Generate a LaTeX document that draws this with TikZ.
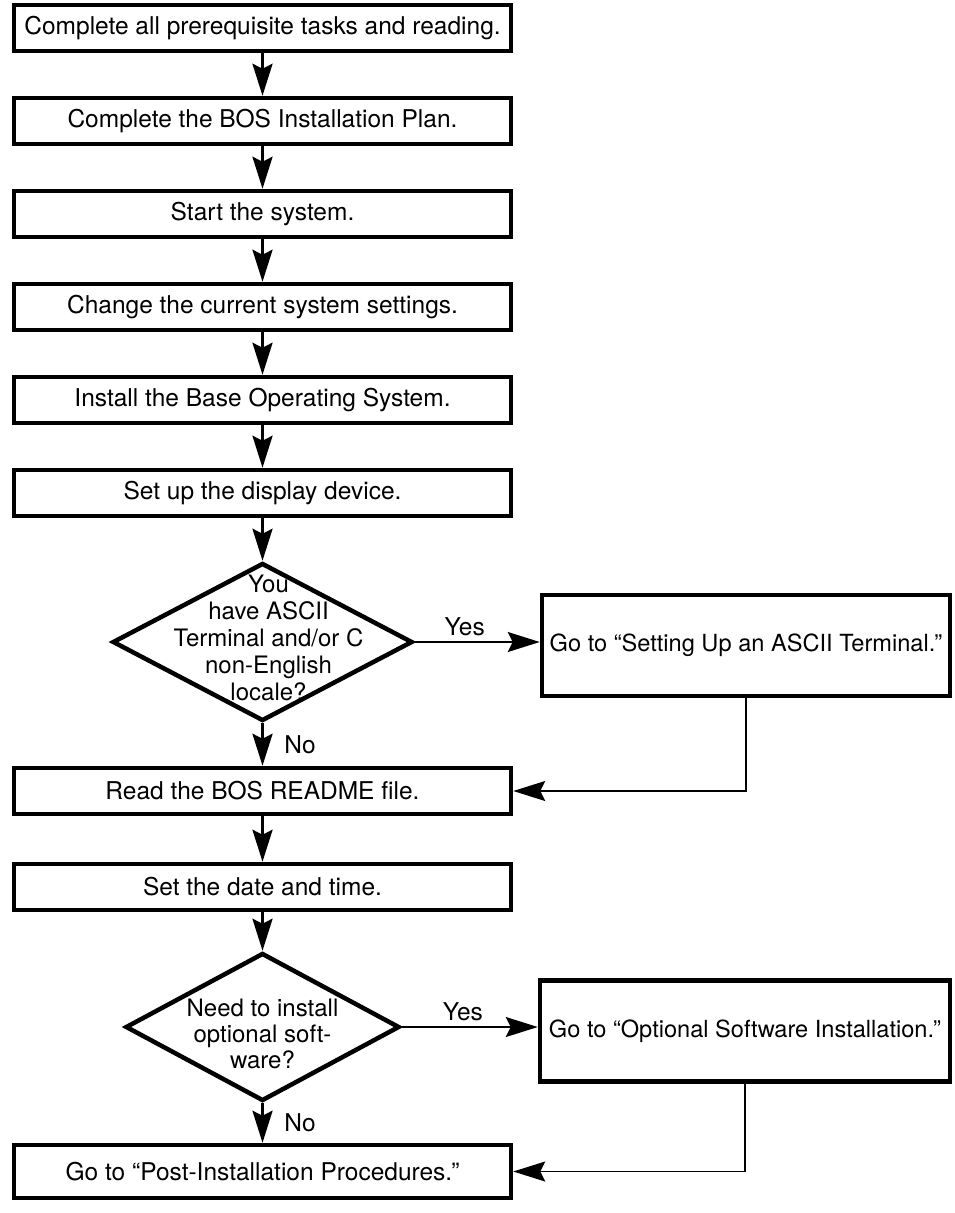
\documentclass[tikz,border=0pt]{standalone}
\usepackage{fontspec}
\setmainfont{TeX Gyre Heros}
\usetikzlibrary{shapes.geometric,arrows.meta,calc}

\tikzset{
  stepbox/.style={draw,line width=4.5pt,minimum width=497pt,minimum height=46pt,inner sep=0pt},
  gobox/.style={draw,line width=4.5pt,minimum width=408pt,minimum height=101pt,inner sep=0pt,
    font=\fontsize{23.6}{27}\selectfont},
  decision/.style={draw,diamond,line width=4.5pt,inner sep=0pt},
  qtext/.style={align=center,font=\fontsize{24}{27}\selectfont},
  arr/.style={line width=3pt,-{Stealth[length=32pt,width=20pt,inset=5pt]}},
  back/.style={line width=1.6pt,-{Stealth[length=32pt,width=20pt,inset=5pt]}}
}

\begin{document}
\begin{tikzpicture}[x=1pt,y=-1pt,font=\fontsize{24.5}{27}\selectfont]
  \useasboundingbox (0,0) rectangle (954,1213);

  \node[stepbox] (prereq)   at (262.5, 28)  {Complete all prerequisite tasks and reading.};
  \node[stepbox] (plan)     at (262.5, 121) {Complete the BOS Installation Plan.};
  \node[stepbox] (start)    at (262.5, 214) {Start the system.};
  \node[stepbox] (settings) at (262.5, 307) {Change the current system settings.};
  \node[stepbox] (install)  at (262.5, 400) {Install the Base Operating System.};
  \node[stepbox] (display)  at (262.5, 493) {Set up the display device.};

  \node[decision,minimum width=300pt,minimum height=158pt,
    label={[qtext,xshift=6pt,yshift=4pt]center:You\\have ASCII\\Terminal and/or C\\non-English\\locale?}]
    (ascii) at (262.5, 642) {};
  \node[gobox] (term) at (746, 645.5) {Go to “Setting Up an ASCII Terminal.”};

  \node[stepbox] (readme)   at (262.5, 791) {Read the BOS README file.};
  \node[stepbox] (datetime) at (262.5, 887) {Set the date and time.};

  \node[decision,minimum width=274pt,minimum height=148pt,
    label={[qtext,font=\fontsize{24}{26}\selectfont,yshift=-7pt]center:Need to install\\optional soft-\\ware?}]
    (optional) at (262.5, 1027) {};
  \node[gobox,minimum width=410pt] (optbox) at (745, 1031) {Go to “Optional Software Installation.”};

  \node[stepbox,minimum height=53pt] (post) at (262.5, 1171.5) {Go to “Post-Installation Procedures.”};

  \foreach \a/\b in {prereq/plan,plan/start,start/settings,settings/install,
                     install/display,display/ascii,readme/datetime,datetime/optional}
    \draw[arr] (\a) -- (\b);

  \draw[arr] (ascii) -- (readme) node[midway,right=17pt] {No};
  \draw[arr] (optional) -- (post) node[midway,right=17pt] {No};

  \draw[arr,line width=2pt] (ascii.east) -- (ascii.east -| term.west)
    node[pos=0.4,above=2pt] {Yes};
  \draw[arr,line width=2pt] (optional.east) -- (optional.east -| optbox.west)
    node[pos=0.45,above=2pt] {Yes};

  \draw[back] (term.south) |- (readme.east);
  \draw[back] (optbox.south) |- (post.east);
\end{tikzpicture}
\end{document}
